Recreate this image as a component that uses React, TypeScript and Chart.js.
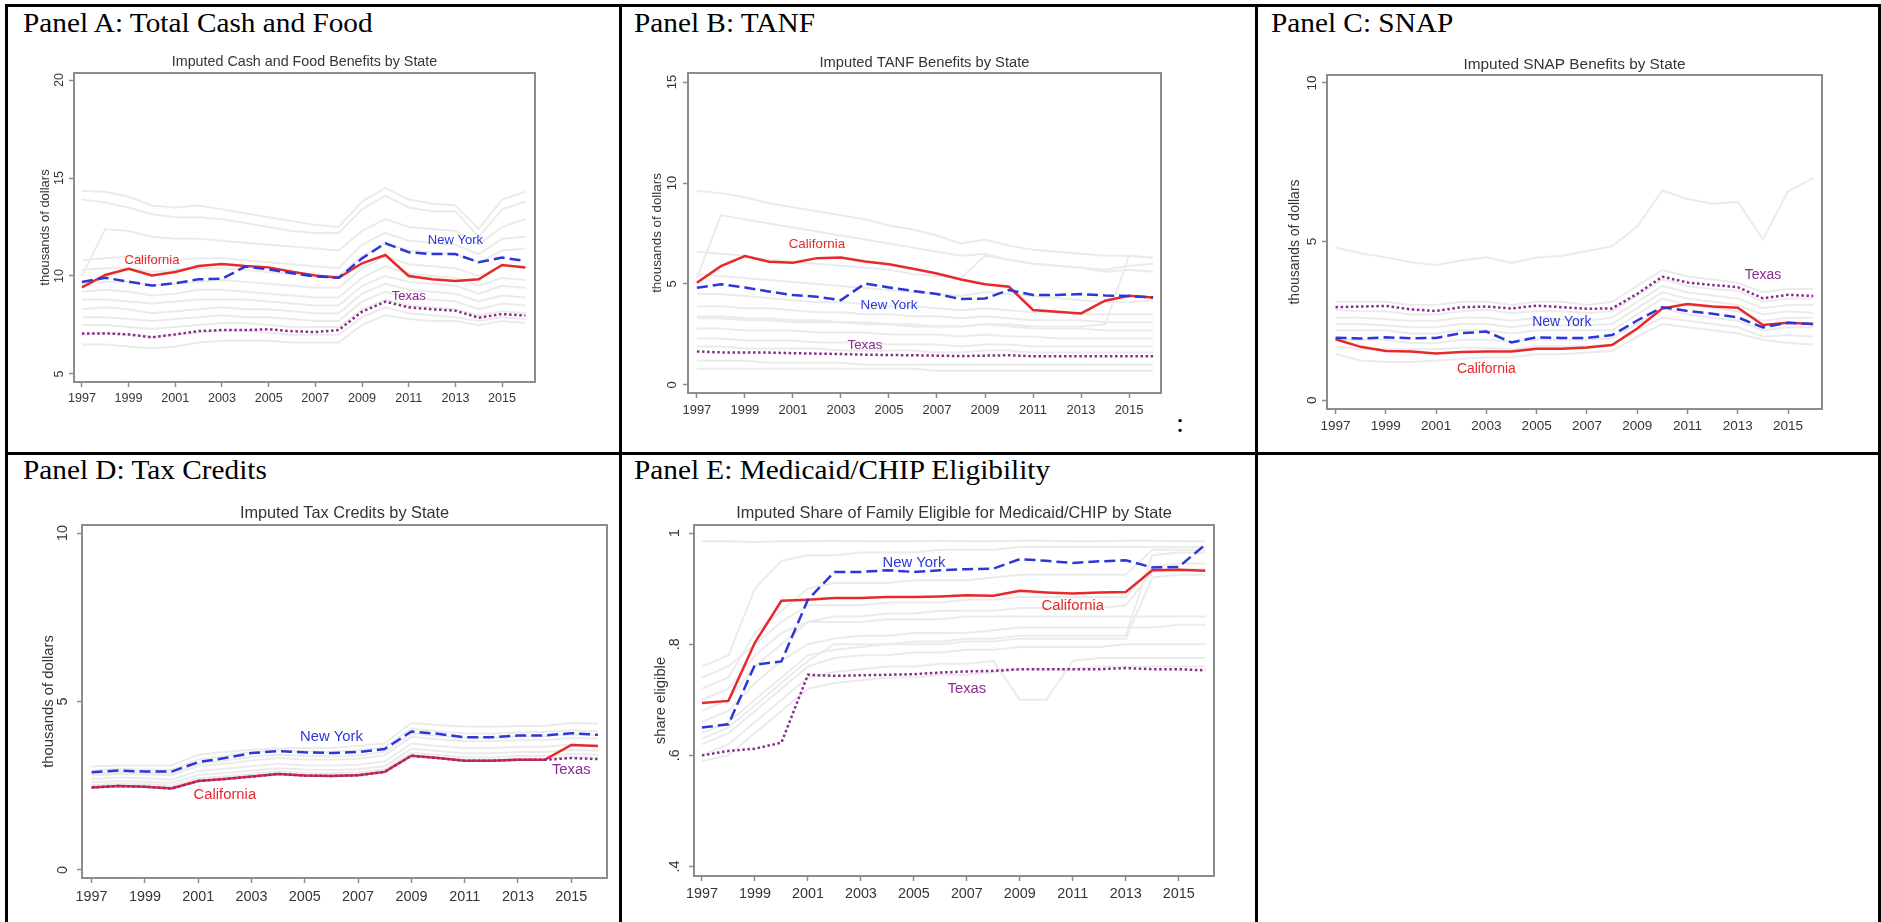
import React, { useEffect, useRef } from 'react';
import { Chart, registerables } from 'chart.js';

Chart.register(...registerables);

// ---------------- DATA ----------------
const years = [1997, 1998, 1999, 2000, 2001, 2002, 2003, 2004, 2005, 2006, 2007, 2008, 2009, 2010, 2011, 2012, 2013, 2014, 2015, 2016];
const xTickYears = [1997, 1999, 2001, 2003, 2005, 2007, 2009, 2011, 2013, 2015];

// Panel A: total cash and food (thousands of dollars)
const cashCalifornia = [9.42, 10.05, 10.37, 10.03, 10.2, 10.51, 10.61, 10.51, 10.44, 10.22, 10.02, 9.91, 10.65, 11.07, 10.0, 9.83, 9.74, 9.83, 10.56, 10.43];
const cashNewYork = [9.69, 9.91, 9.71, 9.51, 9.63, 9.83, 9.86, 10.48, 10.34, 10.14, 9.98, 9.91, 10.9, 11.67, 11.21, 11.12, 11.12, 10.7, 10.94, 10.77];
const cashTexas = [7.07, 7.07, 7.02, 6.87, 7.02, 7.19, 7.24, 7.24, 7.28, 7.18, 7.14, 7.24, 8.18, 8.69, 8.4, 8.3, 8.23, 7.87, 8.06, 7.98];
const cashOtherStates = [
  [14.35, 14.3, 14.05, 13.6, 13.5, 13.6, 13.4, 13.2, 13.0, 12.8, 12.6, 12.5, 13.8, 14.5, 13.9, 13.7, 13.6, 12.4, 13.9, 14.3],
  [13.9, 13.75, 13.5, 13.15, 13.0, 13.0, 12.9, 12.7, 12.5, 12.3, 12.2, 12.2, 13.4, 14.1, 13.5, 13.3, 13.3, 12.0, 13.4, 13.8],
  [10.0, 12.4, 12.3, 12.0, 11.9, 11.9, 11.8, 11.7, 11.6, 11.5, 11.4, 11.3, 12.3, 12.9, 12.5, 12.4, 12.3, 11.6, 12.5, 12.9],
  [10.8, 10.9, 11.0, 10.8, 10.8, 10.9, 10.9, 10.8, 10.7, 10.6, 10.5, 10.4, 11.6, 12.2, 11.8, 11.7, 11.6, 11.1, 11.9, 12.0],
  [10.3, 10.4, 10.4, 10.2, 10.3, 10.4, 10.4, 10.3, 10.2, 10.1, 10.0, 10.0, 11.0, 11.7, 11.3, 11.2, 11.1, 10.7, 11.3, 11.4],
  [9.6, 9.7, 9.7, 9.5, 9.6, 9.7, 9.8, 9.7, 9.6, 9.5, 9.4, 9.4, 10.4, 11.0, 10.6, 10.5, 10.4, 10.0, 10.5, 10.5],
  [9.2, 9.3, 9.2, 9.0, 9.1, 9.3, 9.3, 9.2, 9.1, 9.0, 8.9, 8.9, 9.9, 10.5, 10.1, 10.0, 9.9, 9.5, 9.9, 9.8],
  [8.8, 8.8, 8.7, 8.6, 8.7, 8.8, 8.8, 8.8, 8.7, 8.6, 8.5, 8.5, 9.5, 10.0, 9.7, 9.6, 9.5, 9.1, 9.5, 9.4],
  [8.3, 8.4, 8.3, 8.1, 8.2, 8.3, 8.4, 8.3, 8.3, 8.2, 8.1, 8.1, 9.1, 9.6, 9.3, 9.2, 9.1, 8.7, 9.0, 8.9],
  [7.9, 7.9, 7.8, 7.7, 7.8, 7.9, 8.0, 7.9, 7.9, 7.8, 7.7, 7.7, 8.7, 9.2, 8.9, 8.8, 8.7, 8.3, 8.6, 8.5],
  [7.5, 7.5, 7.4, 7.3, 7.4, 7.5, 7.6, 7.6, 7.5, 7.4, 7.4, 7.4, 8.3, 8.8, 8.5, 8.4, 8.3, 8.0, 8.2, 8.1],
  [7.0, 7.1, 7.0, 6.9, 7.0, 7.1, 7.2, 7.2, 7.1, 7.0, 7.0, 7.0, 7.9, 8.4, 8.1, 8.0, 7.9, 7.7, 7.9, 7.8],
  [6.5, 6.5, 6.4, 6.3, 6.4, 6.6, 6.7, 6.7, 6.7, 6.6, 6.6, 6.6, 7.5, 8.0, 7.8, 7.7, 7.7, 7.5, 7.7, 7.6],
];
const cashYTicks = [5, 10, 15, 20];

// Panel B: TANF
const tanfCalifornia = [5.06, 5.88, 6.38, 6.1, 6.05, 6.28, 6.31, 6.11, 5.98, 5.75, 5.52, 5.22, 4.99, 4.86, 3.71, 3.62, 3.54, 4.17, 4.42, 4.33];
const tanfNewYork = [4.81, 4.99, 4.83, 4.63, 4.45, 4.37, 4.2, 5.02, 4.83, 4.66, 4.5, 4.25, 4.28, 4.7, 4.46, 4.46, 4.5, 4.43, 4.4, 4.33];
const tanfTexas = [1.66, 1.61, 1.6, 1.6, 1.57, 1.55, 1.53, 1.5, 1.48, 1.47, 1.45, 1.43, 1.45, 1.47, 1.42, 1.42, 1.42, 1.42, 1.42, 1.42];
const tanfOtherStates = [
  [9.6, 9.5, 9.3, 9.0, 8.8, 8.6, 8.4, 8.2, 7.9, 7.7, 7.4, 7.0, 7.2, 6.9, 6.7, 6.6, 6.5, 6.4, 6.4, 6.3],
  [5.3, 8.4, 8.2, 8.0, 7.8, 7.6, 7.4, 7.2, 7.0, 6.8, 6.6, 6.4, 6.5, 6.2, 6.0, 5.9, 5.8, 5.6, 5.7, 5.6],
  [6.6, 6.5, 6.4, 6.2, 6.1, 6.0, 5.9, 5.8, 5.7, 5.5, 5.4, 5.3, 6.4, 6.2, 6.0, 5.9, 5.8, 5.7, 5.9, 6.0],
  [3.3, 3.3, 3.2, 3.2, 3.1, 3.1, 3.1, 3.0, 3.0, 2.9, 2.9, 2.9, 3.0, 3.0, 2.9, 2.9, 2.9, 3.0, 6.4, 6.3],
  [5.5, 5.4, 5.3, 5.2, 5.1, 5.0, 4.9, 4.8, 4.7, 4.6, 4.5, 4.4, 4.6, 4.5, 4.4, 4.3, 4.2, 4.1, 4.1, 4.2],
  [4.5, 4.5, 4.4, 4.3, 4.2, 4.1, 4.1, 4.0, 3.9, 3.9, 3.8, 3.7, 3.8, 3.7, 3.6, 3.6, 3.5, 3.5, 3.5, 3.5],
  [3.9, 3.9, 3.8, 3.8, 3.7, 3.6, 3.6, 3.5, 3.5, 3.4, 3.4, 3.3, 3.4, 3.3, 3.2, 3.2, 3.2, 3.1, 3.1, 3.1],
  [3.4, 3.4, 3.3, 3.3, 3.2, 3.2, 3.1, 3.1, 3.0, 3.0, 2.9, 2.9, 3.0, 2.9, 2.8, 2.8, 2.8, 2.7, 2.7, 2.7],
  [2.8, 2.8, 2.7, 2.7, 2.7, 2.6, 2.6, 2.6, 2.5, 2.5, 2.5, 2.4, 2.5, 2.4, 2.4, 2.3, 2.3, 2.3, 2.3, 2.3],
  [2.3, 2.3, 2.2, 2.2, 2.2, 2.1, 2.1, 2.1, 2.0, 2.0, 2.0, 1.9, 2.0, 2.0, 1.9, 1.9, 1.9, 1.9, 1.9, 1.9],
  [1.9, 1.9, 1.8, 1.8, 1.8, 1.8, 1.7, 1.7, 1.7, 1.7, 1.6, 1.6, 1.7, 1.7, 1.6, 1.6, 1.6, 1.6, 1.6, 1.6],
  [1.2, 1.2, 1.2, 1.1, 1.1, 1.1, 1.1, 1.0, 1.0, 1.0, 1.0, 1.0, 1.0, 1.0, 1.0, 1.0, 1.0, 1.0, 1.0, 1.0],
  [0.8, 0.8, 0.8, 0.8, 0.8, 0.8, 0.8, 0.8, 0.8, 0.8, 0.7, 0.7, 0.7, 0.7, 0.7, 0.7, 0.7, 0.7, 0.7, 0.7],
];
const tanfYTicks = [0, 5, 10, 15];

// Panel C: SNAP
const snapCalifornia = [1.92, 1.68, 1.55, 1.53, 1.47, 1.52, 1.53, 1.53, 1.62, 1.62, 1.66, 1.74, 2.26, 2.89, 3.03, 2.95, 2.91, 2.37, 2.44, 2.4];
const snapNewYork = [1.97, 1.94, 1.98, 1.95, 1.96, 2.11, 2.16, 1.82, 1.98, 1.96, 1.96, 2.05, 2.51, 2.93, 2.81, 2.72, 2.61, 2.29, 2.44, 2.4];
const snapTexas = [2.93, 2.95, 2.97, 2.86, 2.81, 2.93, 2.95, 2.89, 2.98, 2.93, 2.88, 2.89, 3.35, 3.89, 3.71, 3.63, 3.56, 3.21, 3.32, 3.28];
const snapOtherStates = [
  [4.81, 4.63, 4.5, 4.35, 4.26, 4.4, 4.5, 4.32, 4.5, 4.55, 4.7, 4.85, 5.47, 6.61, 6.34, 6.19, 6.25, 5.07, 6.58, 7.0],
  [3.1, 3.1, 3.1, 3.0, 3.0, 3.1, 3.1, 3.0, 3.1, 3.1, 3.0, 3.1, 3.6, 4.1, 3.9, 3.8, 3.7, 3.4, 3.5, 3.5],
  [2.85, 2.8, 2.8, 2.7, 2.7, 2.8, 2.85, 2.75, 2.8, 2.8, 2.75, 2.8, 3.3, 3.8, 3.6, 3.5, 3.45, 3.1, 3.2, 3.2],
  [2.6, 2.6, 2.55, 2.5, 2.5, 2.6, 2.6, 2.5, 2.6, 2.55, 2.5, 2.6, 3.1, 3.6, 3.4, 3.3, 3.2, 2.9, 3.0, 3.0],
  [2.4, 2.4, 2.35, 2.3, 2.3, 2.4, 2.4, 2.3, 2.4, 2.35, 2.35, 2.4, 2.9, 3.4, 3.2, 3.1, 3.0, 2.7, 2.8, 2.75],
  [2.2, 2.2, 2.2, 2.1, 2.1, 2.2, 2.2, 2.1, 2.2, 2.2, 2.2, 2.2, 2.7, 3.2, 3.0, 2.9, 2.8, 2.5, 2.6, 2.6],
  [1.9, 1.9, 1.9, 1.8, 1.8, 1.9, 1.9, 1.85, 1.9, 1.9, 1.9, 1.95, 2.4, 2.9, 2.7, 2.6, 2.5, 2.2, 2.3, 2.3],
  [1.7, 1.6, 1.6, 1.6, 1.6, 1.65, 1.65, 1.6, 1.7, 1.7, 1.7, 1.75, 2.2, 2.6, 2.5, 2.4, 2.3, 2.0, 2.05, 2.0],
  [1.45, 1.25, 1.2, 1.2, 1.25, 1.3, 1.35, 1.35, 1.45, 1.45, 1.5, 1.55, 2.0, 2.4, 2.3, 2.2, 2.1, 1.9, 1.8, 1.75],
];
const snapYTicks = [0, 5, 10];

// Panel D: tax credits
const taxCalifornia = [2.45, 2.49, 2.47, 2.42, 2.64, 2.7, 2.77, 2.85, 2.8, 2.79, 2.81, 2.91, 3.39, 3.32, 3.24, 3.24, 3.27, 3.27, 3.71, 3.68];
const taxNewYork = [2.9, 2.95, 2.92, 2.92, 3.2, 3.32, 3.47, 3.53, 3.49, 3.47, 3.5, 3.59, 4.11, 4.04, 3.94, 3.94, 3.99, 3.99, 4.06, 4.01];
const taxTexas = [2.45, 2.49, 2.47, 2.42, 2.64, 2.7, 2.77, 2.85, 2.8, 2.79, 2.81, 2.91, 3.39, 3.32, 3.24, 3.24, 3.27, 3.27, 3.32, 3.29];
const taxOtherStates = [
  [3.07, 3.1, 3.1, 3.1, 3.42, 3.5, 3.57, 3.61, 3.62, 3.63, 3.68, 3.76, 4.36, 4.3, 4.26, 4.25, 4.27, 4.28, 4.36, 4.35],
  [2.95, 3.0, 2.98, 2.97, 3.28, 3.38, 3.5, 3.55, 3.52, 3.5, 3.55, 3.64, 4.2, 4.12, 4.05, 4.04, 4.08, 4.1, 4.15, 4.12],
  [2.85, 2.9, 2.88, 2.86, 3.15, 3.25, 3.35, 3.42, 3.38, 3.37, 3.4, 3.5, 4.05, 3.98, 3.92, 3.92, 3.96, 3.97, 4.02, 4.0],
  [2.8, 2.85, 2.83, 2.8, 3.08, 3.15, 3.25, 3.32, 3.28, 3.27, 3.3, 3.4, 3.95, 3.88, 3.82, 3.82, 3.85, 3.86, 3.92, 3.9],
  [2.7, 2.74, 2.72, 2.68, 2.94, 3.0, 3.08, 3.15, 3.1, 3.1, 3.12, 3.22, 3.75, 3.68, 3.62, 3.62, 3.66, 3.66, 3.72, 3.7],
  [2.6, 2.64, 2.62, 2.58, 2.82, 2.88, 2.95, 3.02, 2.98, 2.97, 2.99, 3.08, 3.6, 3.53, 3.46, 3.46, 3.5, 3.5, 3.56, 3.54],
  [2.52, 2.56, 2.54, 2.5, 2.72, 2.78, 2.85, 2.93, 2.88, 2.87, 2.89, 2.98, 3.48, 3.41, 3.34, 3.34, 3.38, 3.38, 3.44, 3.42],
  [2.45, 2.5, 2.48, 2.44, 2.66, 2.72, 2.79, 2.86, 2.82, 2.8, 2.83, 2.93, 3.4, 3.33, 3.26, 3.26, 3.3, 3.3, 3.35, 3.33],
];
const taxYTicks = [0, 5, 10];

// Panel E: Medicaid/CHIP eligibility (share)
const medCalifornia = [0.694, 0.698, 0.803, 0.878, 0.88, 0.883, 0.883, 0.885, 0.885, 0.886, 0.888, 0.887, 0.896, 0.893, 0.891, 0.893, 0.894, 0.933, 0.934, 0.932];
const medNewYork = [0.65, 0.656, 0.763, 0.769, 0.88, 0.93, 0.93, 0.933, 0.93, 0.933, 0.935, 0.936, 0.953, 0.95, 0.946, 0.949, 0.951, 0.938, 0.939, 0.979];
const medTexas = [0.6, 0.608, 0.612, 0.623, 0.745, 0.743, 0.744, 0.745, 0.746, 0.749, 0.751, 0.752, 0.755, 0.755, 0.755, 0.755, 0.757, 0.755, 0.755, 0.753];
const medOtherStates = [
  [0.985, 0.985, 0.984, 0.985, 0.985, 0.986, 0.985, 0.985, 0.985, 0.986, 0.985, 0.985, 0.986, 0.986, 0.985, 0.985, 0.986, 0.986, 0.985, 0.985],
  [0.76, 0.78, 0.9, 0.95, 0.96, 0.96, 0.965, 0.965, 0.965, 0.97, 0.97, 0.97, 0.975, 0.975, 0.975, 0.975, 0.975, 0.975, 0.975, 0.975],
  [0.72, 0.74, 0.82, 0.86, 0.9, 0.91, 0.91, 0.91, 0.915, 0.915, 0.915, 0.92, 0.925, 0.925, 0.925, 0.925, 0.925, 0.97, 0.97, 0.97],
  [0.74, 0.76, 0.8, 0.84, 0.87, 0.87, 0.87, 0.875, 0.875, 0.875, 0.88, 0.88, 0.885, 0.885, 0.885, 0.885, 0.885, 0.94, 0.945, 0.945],
  [0.68, 0.7, 0.76, 0.8, 0.84, 0.85, 0.85, 0.855, 0.855, 0.86, 0.86, 0.86, 0.865, 0.865, 0.865, 0.865, 0.87, 0.93, 0.935, 0.935],
  [0.7, 0.72, 0.78, 0.82, 0.84, 0.84, 0.84, 0.845, 0.845, 0.845, 0.85, 0.85, 0.85, 0.85, 0.85, 0.85, 0.85, 0.85, 0.85, 0.85],
  [0.66, 0.68, 0.73, 0.77, 0.8, 0.81, 0.815, 0.815, 0.82, 0.82, 0.82, 0.825, 0.83, 0.83, 0.83, 0.83, 0.83, 0.83, 0.835, 0.835],
  [0.63, 0.65, 0.69, 0.73, 0.77, 0.8, 0.8, 0.8, 0.805, 0.805, 0.81, 0.81, 0.815, 0.815, 0.815, 0.815, 0.815, 0.96, 0.965, 0.965],
  [0.64, 0.66, 0.7, 0.74, 0.78, 0.79, 0.795, 0.8, 0.8, 0.8, 0.805, 0.805, 0.81, 0.81, 0.81, 0.81, 0.81, 0.92, 0.925, 0.925],
  [0.62, 0.64, 0.68, 0.72, 0.76, 0.775, 0.78, 0.78, 0.785, 0.785, 0.79, 0.79, 0.795, 0.795, 0.795, 0.795, 0.8, 0.8, 0.8, 0.8],
  [0.6, 0.62, 0.66, 0.7, 0.74, 0.75, 0.755, 0.76, 0.76, 0.765, 0.765, 0.77, 0.7, 0.7, 0.77, 0.775, 0.775, 0.775, 0.775, 0.775],
  [0.59, 0.6, 0.64, 0.68, 0.72, 0.73, 0.735, 0.74, 0.74, 0.745, 0.745, 0.75, 0.755, 0.755, 0.755, 0.76, 0.76, 0.76, 0.76, 0.76],
];
const medYTicks = [0.4, 0.6, 0.8, 1];

// State name annotations (data coordinates: year, value)
const cashStateLabels = [
  { state: 'California', year: 2000, value: 10.77 },
  { state: 'New York', year: 2013, value: 11.82 },
  { state: 'Texas', year: 2011, value: 8.94 },
];
const tanfStateLabels = [
  { state: 'California', year: 2002, value: 6.95 },
  { state: 'New York', year: 2005, value: 3.95 },
  { state: 'Texas', year: 2004, value: 1.97 },
];
const snapStateLabels = [
  { state: 'California', year: 2003, value: 0.97 },
  { state: 'New York', year: 2006, value: 2.45 },
  { state: 'Texas', year: 2014, value: 3.95 },
];
const taxStateLabels = [
  { state: 'California', year: 2002, value: 2.22 },
  { state: 'New York', year: 2006, value: 3.96 },
  { state: 'Texas', year: 2015, value: 2.97 },
];
const medStateLabels = [
  { state: 'California', year: 2011, value: 0.868 },
  { state: 'New York', year: 2005, value: 0.947 },
  { state: 'Texas', year: 2007, value: 0.719 },
];

// ---------------- STYLE / LAYOUT ----------------
const SANS = "'Liberation Sans', Arial, Helvetica, sans-serif";
const SERIF = "'Liberation Serif', 'Times New Roman', Times, serif";
const TEXT = '#353535';
const AXIS = '#8c8c8c';
const STATE_COLORS: Record<string, string> = { California: '#e62a2c', 'New York': '#2d36d8', Texas: '#8b2b90' };
const GRAY_LINE = '#ebebeb';
const M = { left: 52, top: 32, right: 6, bottom: 38 };
const HEAD_SIZE = 27.2;
const HEAD_STRETCH = 1.077;

const plainFmt = (v: number) => String(v);
const shareFmt = (v: number) => (v === 1 ? '1' : String(v).replace(/^0\./, '.'));

type Panel = {
  heading: string; hx: number; hBase: number;
  subtitle: string; yTitle: string;
  frame: { l: number; t: number; r: number; b: number };
  xMin: number; xMax: number; yMin: number; yMax: number;
  yTicks: number[]; yFmt: (v: number) => string;
  ca: number[]; ny: number[]; tx: number[]; others: number[][];
  labels: { state: string; year: number; value: number }[];
  s: number; yTickGap: number; yTitleGap: number; xTickGap: number; subGap: number;
};

const panels: Panel[] = [
  {
    heading: 'Panel A: Total Cash and Food', hx: 22.7, hBase: 32.7,
    subtitle: 'Imputed Cash and Food Benefits by State', yTitle: 'thousands of dollars',
    frame: { l: 74, t: 73, r: 535, b: 382 }, xMin: 1996.66, xMax: 2016.41, yMin: 4.59, yMax: 20.36,
    yTicks: cashYTicks, yFmt: plainFmt, ca: cashCalifornia, ny: cashNewYork, tx: cashTexas, others: cashOtherStates,
    labels: cashStateLabels, s: 1, yTickGap: 14.5, yTitleGap: 28.5, xTickGap: 17, subGap: 10.5,
  },
  {
    heading: 'Panel B: TANF', hx: 633.8, hBase: 32.7,
    subtitle: 'Imputed TANF Benefits by State', yTitle: 'thousands of dollars',
    frame: { l: 688, t: 73, r: 1161, b: 393 }, xMin: 1996.63, xMax: 2016.33, yMin: -0.4, yMax: 15.45,
    yTicks: tanfYTicks, yFmt: plainFmt, ca: tanfCalifornia, ny: tanfNewYork, tx: tanfTexas, others: tanfOtherStates,
    labels: tanfStateLabels, s: 1.03, yTickGap: 15.5, yTitleGap: 31, xTickGap: 17.5, subGap: 10,
  },
  {
    heading: 'Panel C: SNAP', hx: 1270.7, hBase: 32.7,
    subtitle: 'Imputed SNAP Benefits by State', yTitle: 'thousands of dollars',
    frame: { l: 1327, t: 75, r: 1822, b: 409 }, xMin: 1996.66, xMax: 2016.35, yMin: -0.28, yMax: 10.25,
    yTicks: snapYTicks, yFmt: plainFmt, ca: snapCalifornia, ny: snapNewYork, tx: snapTexas, others: snapOtherStates,
    labels: snapStateLabels, s: 1.075, yTickGap: 15, yTitleGap: 31.5, xTickGap: 17.7, subGap: 10.5,
  },
  {
    heading: 'Panel D: Tax Credits', hx: 22.7, hBase: 480,
    subtitle: 'Imputed Tax Credits by State', yTitle: 'thousands of dollars',
    frame: { l: 82, t: 525, r: 607, b: 878 }, xMin: 1996.64, xMax: 2016.34, yMin: -0.24, yMax: 10.24,
    yTicks: taxYTicks, yFmt: plainFmt, ca: taxCalifornia, ny: taxNewYork, tx: taxTexas, others: taxOtherStates,
    labels: taxStateLabels, s: 1.14, yTickGap: 18.8, yTitleGap: 33, xTickGap: 19.5, subGap: 11.5,
  },
  {
    heading: 'Panel E: Medicaid/CHIP Eligibility', hx: 633.8, hBase: 480,
    subtitle: 'Imputed Share of Family Eligible for Medicaid/CHIP by State', yTitle: 'share eligible',
    frame: { l: 694, t: 525, r: 1214, b: 876 }, xMin: 1996.7, xMax: 2016.33, yMin: 0.383, yMax: 1.0144,
    yTicks: medYTicks, yFmt: shareFmt, ca: medCalifornia, ny: medNewYork, tx: medTexas, others: medOtherStates,
    labels: medStateLabels, s: 1.14, yTickGap: 19, yTitleGap: 33.4, xTickGap: 18.5, subGap: 11.5,
  },
];

function PanelChart({ p }: { p: Panel }) {
  const ref = useRef<HTMLCanvasElement | null>(null);
  const w = p.frame.r - p.frame.l + M.left + M.right;
  const h = p.frame.b - p.frame.t + M.top + M.bottom;

  useEffect(() => {
    const canvas = ref.current;
    if (!canvas) return;
    const s = p.s;
    const tickSize = 12.6 * s;
    const subSize = 14.3 * s;
    const yTitleSize = 13 * s;
    const labelSize = 13 * s;

    const mctx = document.createElement('canvas').getContext('2d')!;
    mctx.font = `${tickSize}px ${SANS}`;
    const widest = Math.max(...p.yTicks.map((v) => mctx.measureText(p.yFmt(v)).width));

    const subLH = 1.2 * subSize;
    const subPadBottom = p.subGap - subLH / 2;
    const titleH = subLH + subPadBottom;

    const line = (arr: number[], color: string, width: number, dash: number[]) => ({
      data: years.map((x, i) => ({ x, y: arr[i] })),
      borderColor: color,
      borderWidth: width,
      borderDash: dash,
      borderCapStyle: 'butt' as const,
      pointRadius: 0,
      fill: false,
      tension: 0,
    });

    const datasets = [
      line(p.tx, STATE_COLORS.Texas, 2.5, [2.5, 2.6]),
      line(p.ny, STATE_COLORS['New York'], 2.5, [11, 5]),
      line(p.ca, STATE_COLORS.California, 2.5, []),
      ...p.others.map((o) => line(o, GRAY_LINE, 2, [])),
    ];

    const framePlugin = {
      id: 'frame',
      afterDatasetsDraw(chart: any) {
        const { ctx, chartArea: a } = chart;
        ctx.save();
        ctx.strokeStyle = AXIS;
        ctx.lineWidth = 2;
        ctx.strokeRect(a.left, a.top, a.right - a.left, a.bottom - a.top);
        ctx.restore();
      },
    };

    const labelPlugin = {
      id: 'stateLabels',
      afterDatasetsDraw(chart: any) {
        const { ctx } = chart;
        const xs = chart.scales.x;
        const ys = chart.scales.y;
        ctx.save();
        ctx.font = `${labelSize}px ${SANS}`;
        ctx.textAlign = 'center';
        ctx.textBaseline = 'middle';
        for (const lb of p.labels) {
          ctx.fillStyle = STATE_COLORS[lb.state];
          ctx.fillText(lb.state, xs.getPixelForValue(lb.year), ys.getPixelForValue(lb.value));
        }
        ctx.restore();
      },
    };

    const gridOpts = {
      display: true,
      drawOnChartArea: false,
      drawTicks: true,
      tickLength: 5,
      tickColor: AXIS,
      tickWidth: 1.5,
      color: AXIS,
    };

    const chart = new Chart(canvas, {
      type: 'line',
      data: { datasets: datasets as any },
      options: {
        animation: false,
        responsive: false,
        maintainAspectRatio: false,
        events: [],
        layout: { padding: { left: 0, right: M.right, top: M.top - titleH, bottom: 0 } },
        plugins: {
          legend: { display: false },
          tooltip: { enabled: false },
          title: {
            display: true,
            text: p.subtitle,
            fullSize: false,
            color: TEXT,
            font: { family: SANS, size: subSize, weight: 'normal', lineHeight: 1.2 },
            padding: { top: 0, bottom: subPadBottom },
          },
        },
        scales: {
          x: {
            type: 'linear',
            min: p.xMin,
            max: p.xMax,
            afterBuildTicks: (ax: any) => { ax.ticks = xTickYears.map((v) => ({ value: v })); },
            afterFit: (ax: any) => { ax.height = M.bottom; },
            grid: gridOpts,
            border: { display: false },
            ticks: {
              autoSkip: false,
              maxRotation: 0,
              minRotation: 0,
              padding: p.xTickGap - 5 - 0.6 * tickSize,
              color: TEXT,
              font: { family: SANS, size: tickSize, lineHeight: 1.2 },
              callback: (v: any) => String(v),
            },
          },
          y: {
            type: 'linear',
            min: p.yMin,
            max: p.yMax,
            afterBuildTicks: (ax: any) => { ax.ticks = p.yTicks.map((v) => ({ value: v })); },
            afterFit: (ax: any) => { ax.width = M.left; },
            grid: gridOpts,
            border: { display: false },
            ticks: {
              autoSkip: false,
              minRotation: 90,
              maxRotation: 90,
              crossAlign: 'center',
              padding: p.yTickGap - 5 - widest / 2,
              color: TEXT,
              font: { family: SANS, size: tickSize, lineHeight: 1.2 },
              callback: (v: any) => p.yFmt(Number(v)),
            },
            title: {
              display: true,
              text: p.yTitle,
              color: TEXT,
              font: { family: SANS, size: yTitleSize, lineHeight: 1.2 },
              padding: { top: M.left - p.yTitleGap - 0.6 * yTitleSize, bottom: 0 },
            },
          },
        },
      } as any,
      plugins: [framePlugin, labelPlugin],
    });
    return () => chart.destroy();
  }, []);

  return (
    <canvas
      ref={ref}
      width={w}
      height={h}
      style={{ position: 'absolute', left: p.frame.l - M.left, top: p.frame.t - M.top, width: w, height: h }}
    />
  );
}

const rule = (left: number, top: number, width: number, height: number): React.CSSProperties => ({
  position: 'absolute', left, top, width, height, background: '#000',
});

const headingStyle = (left: number, baseline: number): React.CSSProperties => ({
  position: 'absolute',
  left,
  top: baseline - 0.8375 * HEAD_SIZE,
  fontFamily: SERIF,
  fontSize: HEAD_SIZE,
  lineHeight: `${HEAD_SIZE}px`,
  color: '#000',
  whiteSpace: 'nowrap',
  transform: `scaleX(${HEAD_STRETCH})`,
  transformOrigin: 'left top',
});

export default function App() {
  return (
    <div style={{ position: 'absolute', left: 0, top: 0, width: 1881, height: 922, background: '#fff', overflow: 'hidden' }}>
      <div style={rule(5, 4, 1876, 3)} />
      <div style={rule(5, 4, 3, 918)} />
      <div style={rule(1878, 4, 3, 918)} />
      <div style={rule(619, 4, 3, 918)} />
      <div style={rule(1255, 4, 3, 918)} />
      <div style={rule(5, 452, 1876, 3)} />
      {panels.map((p) => (
        <div key={p.heading} style={headingStyle(p.hx, p.hBase)}>
          {p.heading}
        </div>
      ))}
      <div style={headingStyle(1175.6, 433)}>:</div>
      {panels.map((p) => (
        <PanelChart key={p.subtitle} p={p} />
      ))}
    </div>
  );
}
